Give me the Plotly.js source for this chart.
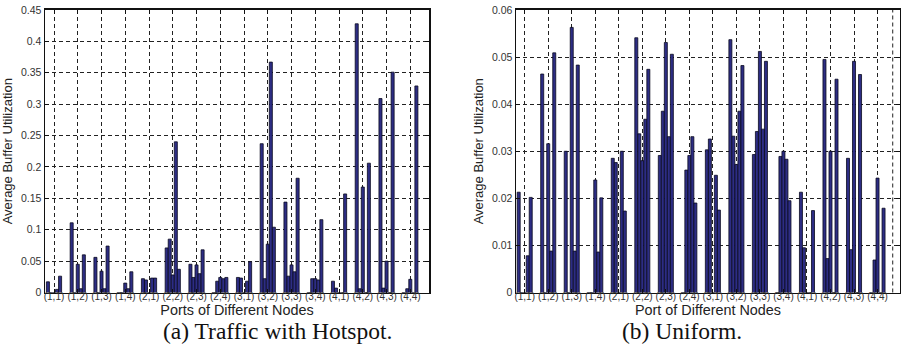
<!DOCTYPE html>
<html>
<head>
<meta charset="utf-8">
<script src="https://cdn.plot.ly/plotly-3.0.1.min.js"></script>
<style>html,body{margin:0;padding:0;background:#fff;}#chart{width:901px;height:352px;}</style>
</head>
<body>
<div id="chart"></div>
<script>
// Node labels (x categories)
const nodes = ["(1,1)","(1,2)","(1,3)","(1,4)","(2,1)","(2,2)","(2,3)","(2,4)",
               "(3,1)","(3,2)","(3,3)","(3,4)","(4,1)","(4,2)","(4,3)","(4,4)"];
const nodePos = [1,2,3,4,5,6,7,8,9,10,11,12,13,14,15,16];

// (a) Traffic with Hotspot — five ports per node
const hotspotPort1 = [0.017,0.111,0.056,0,    0.022,0.071,0.045,0,    0.024,0.237,0.144,0,    0.018,0.428,0.309,0];
const hotspotPort2 = [0,    0,    0,    0,    0.020,0.085,0.024,0.018,0.023,0.022,0.026,0.022,0.007,0.006,0.007,0.006];
const hotspotPort3 = [0,    0.045,0.034,0.015,0,    0.028,0.044,0.024,0,    0.077,0.044,0.022,0,    0.168,0.050,0.021];
const hotspotPort4 = [0.005,0.006,0.006,0.006,0.023,0.240,0.030,0.022,0.018,0.367,0.033,0.020,0,    0,    0,    0];
const hotspotPort5 = [0.026,0.060,0.074,0.033,0.023,0.037,0.068,0.024,0.049,0.104,0.182,0.116,0.157,0.206,0.351,0.329];

// (b) Uniform — five ports per node
const uniformPort1 = [0.0213,0.0464,0.0300,0,     0.0285,0.0541,0.0291,0,     0.0303,0.0537,0.0293,0,     0.0213,0.0495,0.0285,0];
const uniformPort2 = [0,     0,     0,     0,     0.0276,0.0337,0.0385,0.0260,0.0326,0.0332,0.0342,0.0289,0.0095,0.0072,0.0091,0.0069];
const uniformPort3 = [0,     0.0316,0.0563,0.0239,0,     0.0280,0.0531,0.0291,0,     0.0272,0.0512,0.0300,0,     0.0300,0.0491,0.0243];
const uniformPort4 = [0.0078,0.0088,0.0088,0.0086,0.0300,0.0368,0.0331,0.0331,0.0249,0.0385,0.0347,0.0283,0,     0,     0,     0];
const uniformPort5 = [0.0202,0.0509,0.0483,0.0201,0.0173,0.0474,0.0506,0.0190,0.0175,0.0482,0.0491,0.0195,0.0174,0.0453,0.0463,0.0179];

const hotspot = [hotspotPort1,hotspotPort2,hotspotPort3,hotspotPort4,hotspotPort5];
const uniform = [uniformPort1,uniformPort2,uniformPort3,uniformPort4,uniformPort5];

const barFill = '#2d2d84';
const barEdge = '#0a0a1e';

const traces = [];
hotspot.forEach((ys,i)=>{
  traces.push({type:'bar', x:nodePos, y:ys, xaxis:'x', yaxis:'y', showlegend:false,
    marker:{color:barFill, line:{color:barEdge, width:0.8}}, name:'Port '+(i+1), hoverinfo:'y'});
});
uniform.forEach((ys,i)=>{
  traces.push({type:'bar', x:nodePos, y:ys, xaxis:'x2', yaxis:'y2', showlegend:false,
    marker:{color:barFill, line:{color:barEdge, width:0.8}}, name:'Port '+(i+1), hoverinfo:'y'});
});

const xTickFont = {family:'Liberation Sans, Arial, sans-serif', size:10, color:'#333'};
const yTickFont = {family:'Liberation Sans, Arial, sans-serif', size:10.5, color:'#333'};
const xTitleFont = {family:'Liberation Sans, Arial, sans-serif', size:14.4, color:'#222'};
const yTitleFont = {family:'Liberation Sans, Arial, sans-serif', size:13, color:'#222'};
const gridCommon = {showgrid:true, gridcolor:'#222', gridwidth:1, griddash:'4px,3px',
  showline:true, linecolor:'#111', linewidth:1.5, mirror:'ticks', ticks:'inside', ticklen:4,
  tickcolor:'#111', zeroline:false};
const yDomain = [0.169, 0.9716];

const layout = {
  width:901, height:352,
  margin:{l:0,r:0,t:0,b:0},
  paper_bgcolor:'#fff', plot_bgcolor:'#fff',
  barmode:'group', bargap:0.36, bargroupgap:0,
  showlegend:false,
  xaxis:Object.assign({}, gridCommon, {domain:[45/901, 429/901], range:[0.621,16.787],
    tickmode:'array', tickvals:nodePos, ticktext:nodes, anchor:'y', tickfont:xTickFont,
    ticklabelstandoff:-6, tickangle:0, automargin:false,
    title:{text:'Ports of Different Nodes', font:xTitleFont, standoff:4}}),
  yaxis:Object.assign({}, gridCommon, {domain:yDomain, range:[0,0.45], dtick:0.05, tick0:0, anchor:'x',
    tickfont:yTickFont,
    title:{text:'Average Buffer Utilization', font:yTitleFont, standoff:5}}),
  xaxis2:Object.assign({}, gridCommon, {domain:[516/901, 900/901], range:[0.63,16.955],
    tickmode:'array', tickvals:nodePos, ticktext:nodes, anchor:'y2', tickfont:xTickFont,
    ticklabelstandoff:-6, tickangle:0, automargin:false,
    title:{text:'Port of Different Nodes', font:xTitleFont, standoff:4}}),
  yaxis2:Object.assign({}, gridCommon, {domain:yDomain, range:[0,0.06], dtick:0.01, tick0:0, anchor:'x2',
    tickfont:yTickFont,
    title:{text:'Average Buffer Utilization', font:yTitleFont, standoff:5}}),
  shapes:[
    {type:'line', xref:'x2', yref:'y2 domain', x0:16.646, x1:16.646, y0:0, y1:1,
     line:{color:'#222', width:1, dash:'4px,3px'}}
  ],
  annotations:[
    {text:'(a) Traffic with Hotspot.', xref:'paper', yref:'paper', x:277.5/901, y:(352-331)/352,
     xanchor:'center', yanchor:'middle', showarrow:false,
     font:{family:'Liberation Serif, Times New Roman, serif', size:23.5, color:'#111'}},
    {text:'(b) Uniform.', xref:'paper', yref:'paper', x:681.7/901, y:(352-331)/352,
     xanchor:'center', yanchor:'middle', showarrow:false,
     font:{family:'Liberation Serif, Times New Roman, serif', size:23.5, color:'#111'}}
  ]
};

Plotly.newPlot('chart', traces, layout, {displayModeBar:false, staticPlot:true});
</script>
</body>
</html>
